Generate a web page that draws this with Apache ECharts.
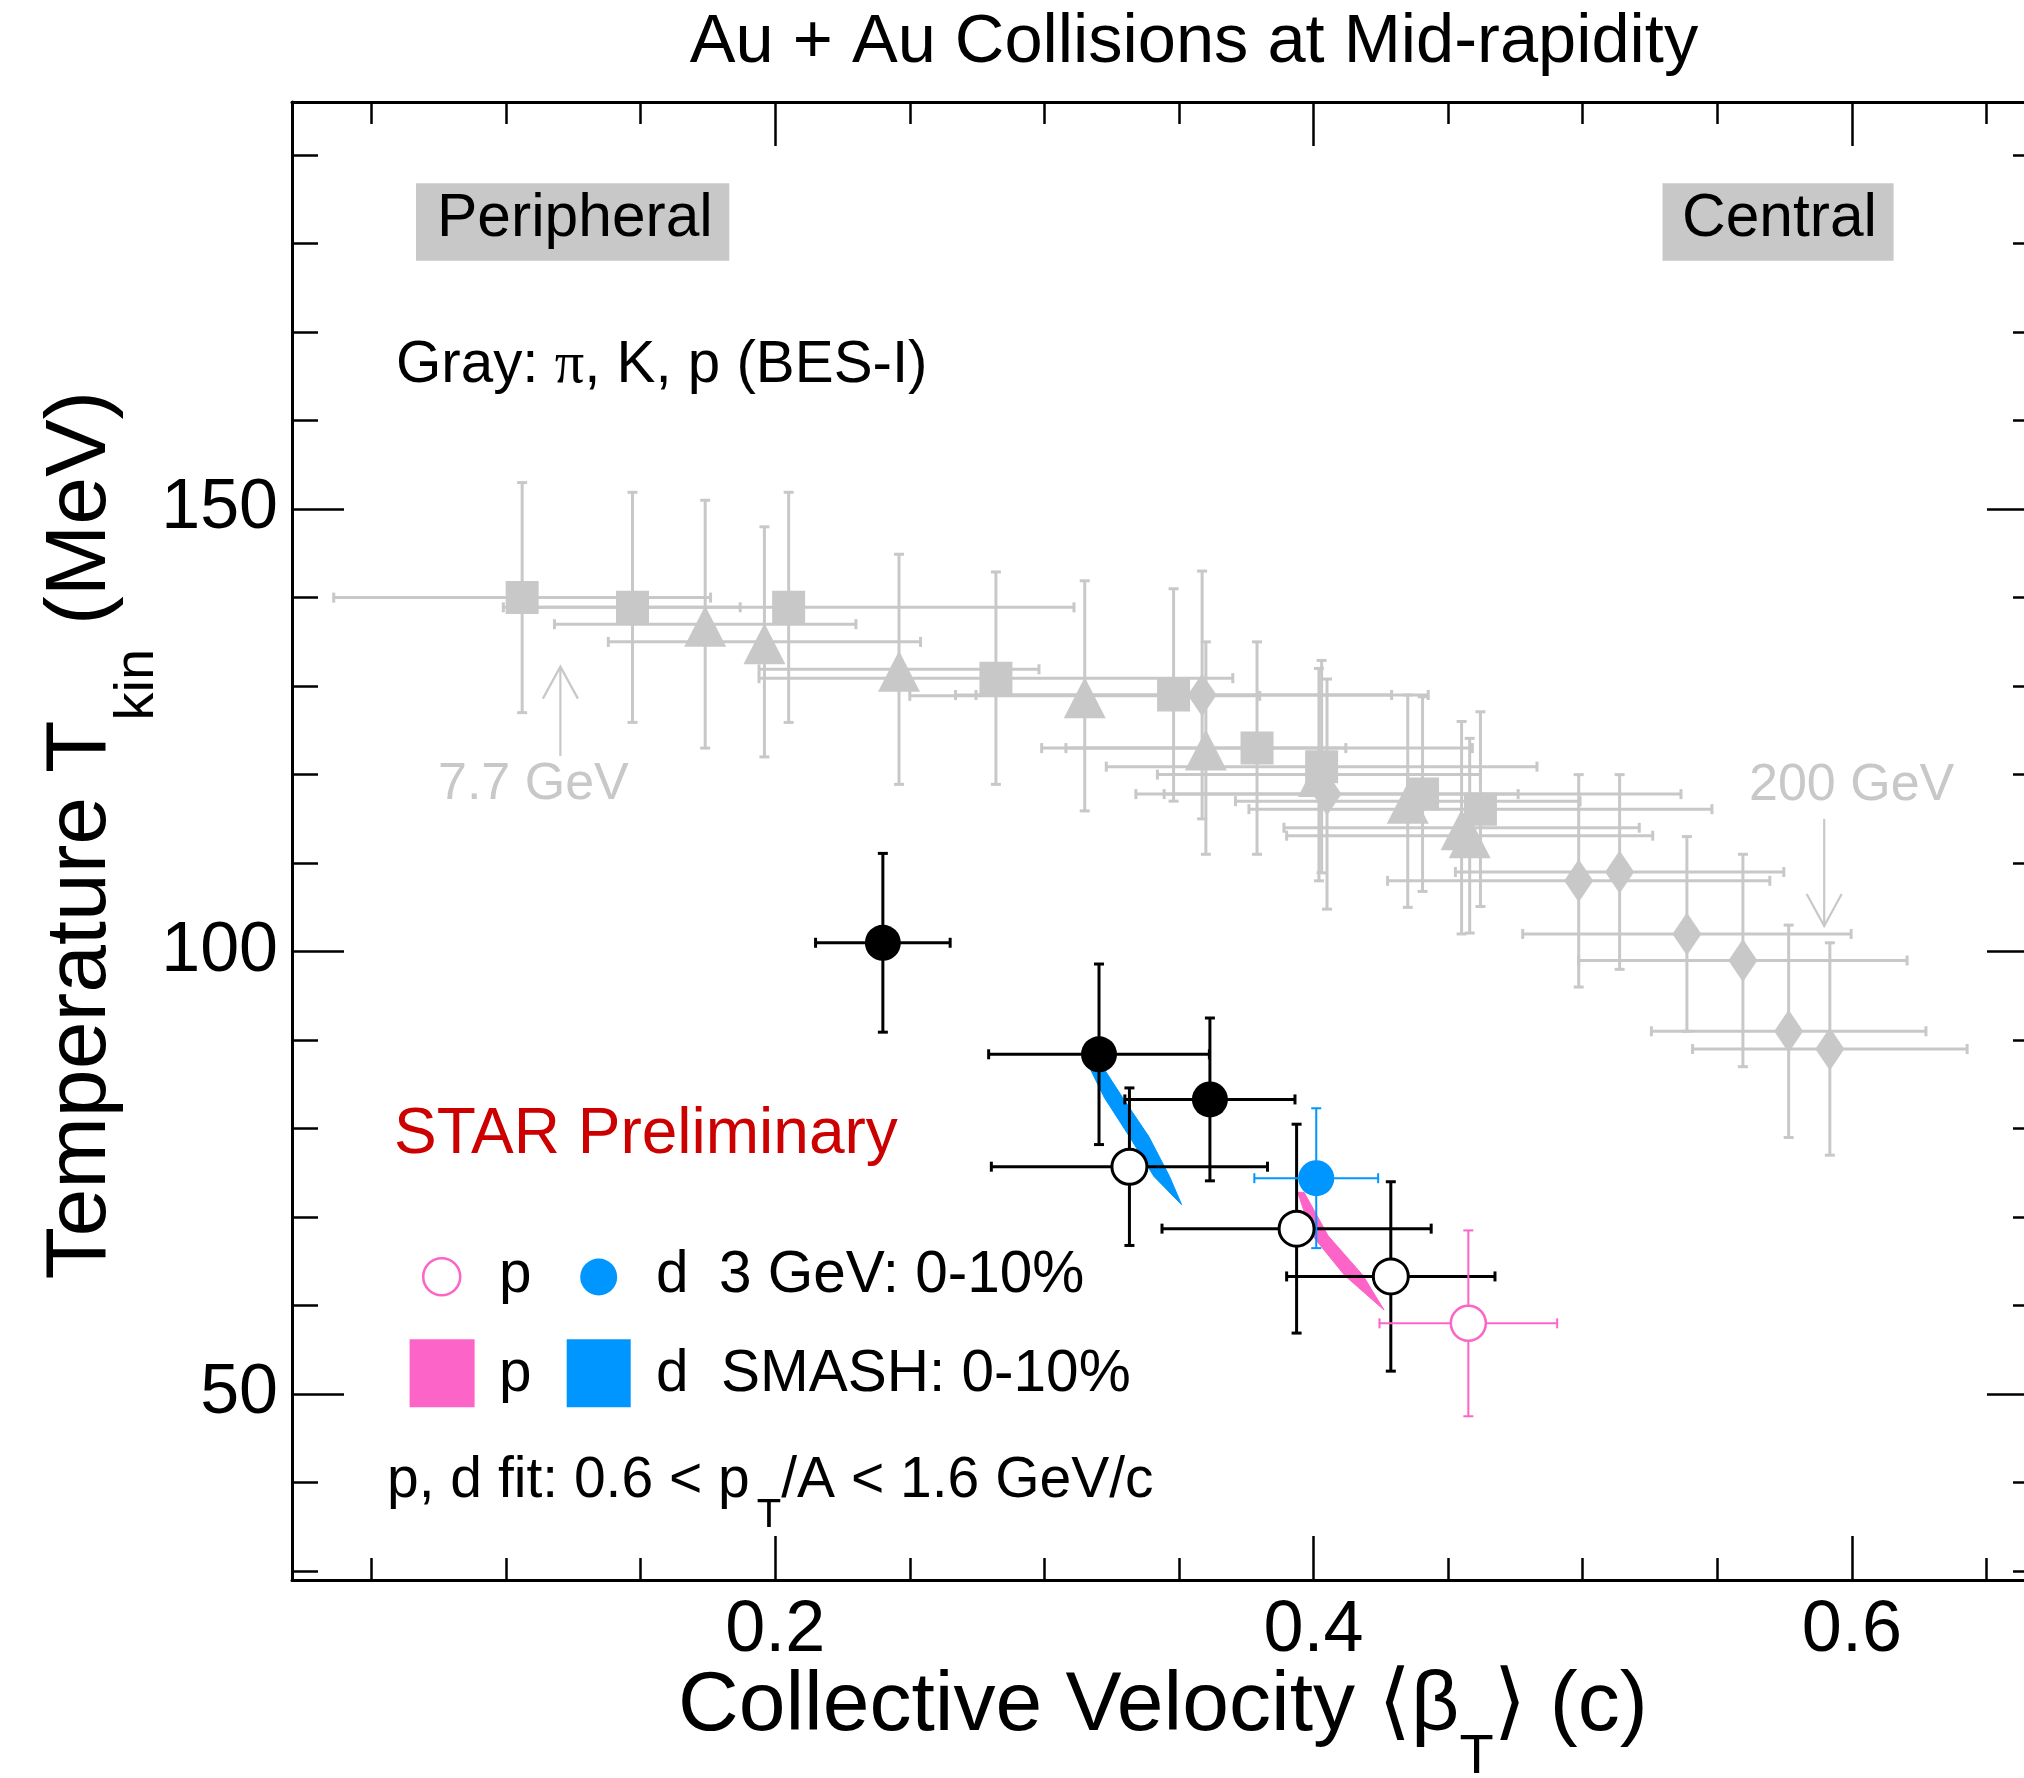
<!DOCTYPE html>
<html>
<head>
<meta charset="utf-8">
<script src="https://cdn.jsdelivr.net/npm/echarts@6/dist/echarts.min.js"></script>
<style>
html,body{margin:0;padding:0;background:#ffffff;}
#chart{width:2024px;height:1778px;}
</style>
</head>
<body>
<div id="chart"></div>
<script>
// ---------------- data ----------------
const X_MIN = 0.0205, X_MAX = 0.6695;
const Y_MIN = 29, Y_MAX = 196;
const xMajorTicks = [0.2, 0.4, 0.6];
const xMinorTicks = [0.05, 0.1, 0.15, 0.25, 0.3, 0.35, 0.45, 0.5, 0.55, 0.65];
const yMajorTicks = [50, 100, 150];
const yMinorTicks = [30, 40, 60, 70, 80, 90, 110, 120, 130, 140, 160, 170, 180, 190];

// Gray: pi, K, p (BES-I)
const graySquareX    = [0.106, 0.147, 0.205, 0.282, 0.348, 0.379, 0.403, 0.4405, 0.462];
const graySquareY    = [140.0, 138.9, 138.9, 130.9, 129.0, 123.0, 120.9, 117.8, 116.1];
const graySquareXErr = [0.070, 0.040, 0.106, 0.088, 0.081, 0.080, 0.080, 0.096, 0.086];
const graySquareYErr = [13, 13, 13, 12, 12, 12, 12, 11, 11];

const grayTriangleX    = [0.174, 0.196, 0.246, 0.315, 0.360, 0.402, 0.435, 0.455, 0.458];
const grayTriangleY    = [137.0, 135.0, 131.9, 128.9, 123.0, 120.0, 117.0, 114.0, 113.1];
const grayTriangleXErr = [0.056, 0.058, 0.052, 0.065, 0.052, 0.060, 0.064, 0.066, 0.068];
const grayTriangleYErr = [14, 13, 13, 13, 12, 12, 12, 12, 11];

const grayDiamondX    = [0.3586, 0.405, 0.4985, 0.5137, 0.5387, 0.5595, 0.5765, 0.5918];
const grayDiamondY    = [129.0, 117.8, 108.0, 109.0, 102.0, 99.0, 91.0, 89.0];
const grayDiamondXErr = [0.084, 0.071, 0.071, 0.061, 0.061, 0.061, 0.051, 0.051];
const grayDiamondYErr = [14, 13, 12, 11, 11, 12, 12, 12];

// 3 GeV, other centralities (black)
const blackDeuteronX    = [0.240, 0.3203, 0.3615];
const blackDeuteronY    = [101.0, 88.4, 83.3];
const blackDeuteronXErr = [0.025, 0.041, 0.0316];
const blackDeuteronYErr = [10.1, 10.2, 9.2];

const blackProtonX    = [0.3316, 0.3937, 0.4287];
const blackProtonY    = [75.7, 68.7, 63.3];
const blackProtonXErr = [0.0513, 0.050, 0.0387];
const blackProtonYErr = [8.9, 11.8, 10.7];

// 3 GeV 0-10%
const protonCentralX = [0.4575], protonCentralY = [58.0], protonCentralXErr = [0.033], protonCentralYErr = [10.5];
const deuteronCentralX = [0.401], deuteronCentralY = [74.4], deuteronCentralXErr = [0.023], deuteronCentralYErr = [7.9];

// SMASH 0-10% bands (outline vertices)
const smashDeuteronBandX = [0.3150, 0.3223, 0.3316, 0.3407, 0.3510, 0.3465, 0.3388, 0.3291, 0.3195];
const smashDeuteronBandY = [88.0, 83.5, 79.1, 74.6, 71.4, 74.6, 79.1, 83.5, 88.0];
const smashProtonBandX = [0.3941, 0.3996, 0.4116, 0.4262, 0.4184, 0.4054, 0.3965];
const smashProtonBandY = [72.8, 67.9, 63.4, 59.5, 63.4, 67.9, 72.8];

// energy arrows (7.7 GeV, 200 GeV)
const arrowX     = [0.1202, 0.5897];
const arrowTailY = [122.1, 115.0];
const arrowTipY  = [132.2, 102.9];

// ---------------- styles ----------------
const GRAY = '#c8c8c8', PINK = '#fc64c8', BLUE = '#0096ff', RED = '#cc0000';
const SANS = "'Liberation Sans', Arial, Helvetica, sans-serif";
const SERIF = "'Liberation Serif', 'Times New Roman', serif";
const DEJAVU = "'DejaVu Sans', sans-serif";

const zip2 = (xs, ys) => xs.map((x, i) => [x, ys[i]]);
const zip4 = (xs, ys, a, b) => xs.map((x, i) => [x, ys[i], a[i], b[i]]);

function errorBars(xs, ys, exs, eys, color, width, cap) {
  return {
    type: 'custom', silent: true, animation: false,
    data: zip4(xs, ys, exs, eys),
    encode: { x: 0, y: 1 },
    renderItem: function (params, api) {
      const x = api.value(0), y = api.value(1), ex = api.value(2), ey = api.value(3);
      const c = api.coord([x, y]);
      const l = api.coord([x - ex, y]), r = api.coord([x + ex, y]);
      const t = api.coord([x, y + ey]), b = api.coord([x, y - ey]);
      const st = { stroke: color, lineWidth: width, fill: null };
      const h = cap / 2;
      return { type: 'group', children: [
        { type: 'line', shape: { x1: l[0], y1: c[1], x2: r[0], y2: c[1] }, style: st },
        { type: 'line', shape: { x1: c[0], y1: t[1], x2: c[0], y2: b[1] }, style: st },
        { type: 'line', shape: { x1: l[0], y1: c[1] - h, x2: l[0], y2: c[1] + h }, style: st },
        { type: 'line', shape: { x1: r[0], y1: c[1] - h, x2: r[0], y2: c[1] + h }, style: st },
        { type: 'line', shape: { x1: c[0] - h, y1: t[1], x2: c[0] + h, y2: t[1] }, style: st },
        { type: 'line', shape: { x1: c[0] - h, y1: b[1], x2: c[0] + h, y2: b[1] }, style: st }
      ]};
    }
  };
}

function markers(xs, ys, symbol, size, itemStyle, offset) {
  return {
    type: 'scatter', silent: true, animation: false,
    symbol: symbol, symbolSize: size, symbolOffset: offset || [0, 0],
    itemStyle: Object.assign({ opacity: 1 }, itemStyle), data: zip2(xs, ys)
  };
}

function band(xs, ys, color) {
  return {
    type: 'custom', silent: true, animation: false,
    data: [[xs[0], ys[0]]],
    encode: { x: 0, y: 1 },
    renderItem: function (params, api) {
      const pts = xs.map((x, i) => api.coord([x, ys[i]]));
      return { type: 'polygon', shape: { points: pts }, style: { fill: color, stroke: color, lineWidth: 1 } };
    }
  };
}

function arrows() {
  return {
    type: 'custom', silent: true, animation: false,
    data: arrowX.map((x, i) => [x, arrowTailY[i], arrowTipY[i]]),
    encode: { x: 0, y: 1 },
    renderItem: function (params, api) {
      const x = api.value(0);
      const tail = api.coord([x, api.value(1)]);
      const tip = api.coord([x, api.value(2)]);
      const dir = tip[1] < tail[1] ? 1 : -1; // head opens back toward tail
      const st = { stroke: GRAY, lineWidth: 2.2, fill: null };
      return { type: 'group', children: [
        { type: 'line', shape: { x1: tail[0], y1: tail[1], x2: tip[0], y2: tip[1] }, style: st },
        { type: 'polyline', shape: { points: [[tip[0] - 17.5, tip[1] + dir * 32], [tip[0], tip[1]], [tip[0] + 17.5, tip[1] + dir * 32]] }, style: st }
      ]};
    }
  };
}

// ---------------- text helpers ----------------
const mctx = document.createElement('canvas').getContext('2d');
function tw(t, size, fam) { mctx.font = size + 'px ' + fam; return mctx.measureText(t).width; }
function textRun(pieces, x0, base, color) {
  let x = x0; const out = [];
  pieces.forEach(function (p) {
    const fam = p.family || SANS;
    if (p.gap) x += p.gap;
    out.push({
      type: 'text', silent: true, x: x, y: base + (p.dy || 0) - 0.35 * p.size,
      style: { text: p.t, font: p.size + 'px ' + fam, fill: p.color || color || '#000',
               align: 'left', verticalAlign: 'middle', textAlign: 'left', textVerticalAlign: 'middle' }
    });
    x += tw(p.t, p.size, fam);
  });
  return out;
}
function runWidth(pieces) { return pieces.reduce((s, p) => s + (p.gap || 0) + tw(p.t, p.size, p.family || SANS), 0); }

const titlePieces = [{ t: 'Au + Au Collisions at Mid-rapidity', size: 68.6 }];
const xTitlePieces = [
  { t: 'Collective Velocity ', size: 84 },
  { t: '\u27E8', size: 84, family: DEJAVU },
  { t: '\u03B2', size: 84 },
  { t: 'T', size: 56, dy: 40 },
  { t: '\u27E9', size: 84, family: DEJAVU },
  { t: ' (c)', size: 84 }
];
const yTitlePieces = [
  { t: 'Temperature T', size: 86 },
  { t: 'kin', size: 56, dy: 45 },
  { t: ' (MeV)', size: 86 }
];

const graphics = [];
// title
graphics.push(...textRun(titlePieces, 1194 - runWidth(titlePieces) / 2, 66.7, '#000'));
// axis titles
graphics.push(...textRun(xTitlePieces, 678, 1736.7, '#000'));
graphics.push({ type: 'group', x: 111.7, y: 1279.6, rotation: Math.PI / 2, children: textRun(yTitlePieces, 0, 0, '#000') });
// Peripheral / Central boxes
graphics.push({ type: 'rect', silent: true, shape: { x: 416, y: 183.3, width: 313.3, height: 77.4 }, style: { fill: GRAY } });
graphics.push({ type: 'rect', silent: true, shape: { x: 1662.5, y: 183.3, width: 231.1, height: 77.4 }, style: { fill: GRAY } });
graphics.push(...textRun([{ t: 'Peripheral', size: 60.5 }], 437, 240, '#000'));
graphics.push(...textRun([{ t: 'Central', size: 60.5 }], 1682, 240, '#000'));
// Gray label
graphics.push(...textRun([
  { t: 'Gray: ', size: 58.3 }, { t: '\u03C0', size: 58.3, family: SERIF }, { t: ', K, p (BES-I)', size: 58.3 }
], 396, 386.7, '#000'));
// energy labels
graphics.push(...textRun([{ t: '7.7 GeV', size: 52 }], 438, 803.3, GRAY));
graphics.push(...textRun([{ t: '200 GeV', size: 52 }], 1749, 803.4, GRAY));
// STAR Preliminary
graphics.push(...textRun([{ t: 'STAR Preliminary', size: 64 }], 394, 1158, RED));
// legend row 1
graphics.push({ type: 'circle', silent: true, shape: { cx: 441.7, cy: 1276.7, r: 18.5 }, style: { fill: '#fff', stroke: PINK, lineWidth: 2.5 } });
graphics.push({ type: 'circle', silent: true, shape: { cx: 598.7, cy: 1277, r: 18.5 }, style: { fill: BLUE } });
graphics.push(...textRun([{ t: 'p', size: 58.5 }], 499, 1296.7, '#000'));
graphics.push(...textRun([{ t: 'd', size: 58.5 }], 656, 1296.7, '#000'));
graphics.push(...textRun([{ t: '3 GeV: 0-10%', size: 58.5 }], 719, 1296.7, '#000'));
// legend row 2
graphics.push({ type: 'rect', silent: true, shape: { x: 409.6, y: 1339.3, width: 65, height: 68 }, style: { fill: PINK } });
graphics.push({ type: 'rect', silent: true, shape: { x: 566.7, y: 1339.3, width: 64, height: 68 }, style: { fill: BLUE } });
graphics.push(...textRun([{ t: 'p', size: 58.5 }], 499, 1395, '#000'));
graphics.push(...textRun([{ t: 'd', size: 58.5 }], 656, 1395, '#000'));
graphics.push(...textRun([{ t: 'SMASH: 0-10%', size: 58.5 }], 721, 1395, '#000'));
// fit range
graphics.push(...textRun([
  { t: 'p, d fit: 0.6 < p', size: 57 }, { t: 'T', size: 40, dy: 28, gap: 7 }, { t: '/A < 1.6 GeV/c', size: 57 }
], 387, 1501.7, '#000'));

// ---------------- axes ----------------
function xAx(pos, ticks, len, showLine, labels) {
  return {
    type: 'value', min: X_MIN, max: X_MAX, position: pos, gridIndex: 0,
    axisLine: { show: showLine, onZero: false, lineStyle: { color: '#000', width: 3 } },
    axisTick: { show: true, inside: true, length: len, customValues: ticks, lineStyle: { color: '#000', width: 2.5 } },
    axisLabel: labels ? { show: true, customValues: ticks, fontSize: 72, fontFamily: SANS, color: '#000', margin: 15,
                          formatter: v => Number(v).toFixed(1) } : { show: false },
    splitLine: { show: false }, minorTick: { show: false }
  };
}
function yAx(pos, ticks, len, showLine, labels) {
  return {
    type: 'value', min: Y_MIN, max: Y_MAX, position: pos, gridIndex: 0,
    axisLine: { show: showLine, onZero: false, lineStyle: { color: '#000', width: 3 } },
    axisTick: { show: true, inside: true, length: len, customValues: ticks, lineStyle: { color: '#000', width: 2.5 } },
    axisLabel: labels ? { show: true, customValues: ticks, fontSize: 70, fontFamily: SANS, color: '#000', margin: 14,
                          formatter: v => String(Math.round(v)) } : { show: false },
    splitLine: { show: false }, minorTick: { show: false }
  };
}

const series = [
  errorBars(graySquareX, graySquareY, graySquareXErr, graySquareYErr, GRAY, 3, 10),
  errorBars(grayTriangleX, grayTriangleY, grayTriangleXErr, grayTriangleYErr, GRAY, 3, 10),
  errorBars(grayDiamondX, grayDiamondY, grayDiamondXErr, grayDiamondYErr, GRAY, 3, 10),
  markers(graySquareX, graySquareY, 'rect', 33, { color: GRAY }),
  markers(grayTriangleX, grayTriangleY, 'triangle', [42, 41], { color: GRAY }, [0, 2]),
  markers(grayDiamondX, grayDiamondY, 'diamond', [29, 43], { color: GRAY }),
  arrows(),
  band(smashDeuteronBandX, smashDeuteronBandY, BLUE),
  band(smashProtonBandX, smashProtonBandY, PINK),
  errorBars(blackDeuteronX, blackDeuteronY, blackDeuteronXErr, blackDeuteronYErr, '#000', 3, 10),
  errorBars(blackProtonX, blackProtonY, blackProtonXErr, blackProtonYErr, '#000', 3, 10),
  errorBars(protonCentralX, protonCentralY, protonCentralXErr, protonCentralYErr, PINK, 2, 10),
  errorBars(deuteronCentralX, deuteronCentralY, deuteronCentralXErr, deuteronCentralYErr, BLUE, 2, 10),
  markers(blackDeuteronX, blackDeuteronY, 'circle', 36, { color: '#000' }),
  markers(blackProtonX, blackProtonY, 'circle', 35, { color: '#fff', borderColor: '#000', borderWidth: 3 }),
  markers(protonCentralX, protonCentralY, 'circle', 35, { color: '#fff', borderColor: PINK, borderWidth: 2.5 }),
  markers(deuteronCentralX, deuteronCentralY, 'circle', 36, { color: BLUE })
];

const chart = echarts.init(document.getElementById('chart'), null, { renderer: 'canvas', width: 2024, height: 1778 });
chart.setOption({
  animation: false,
  backgroundColor: '#ffffff',
  grid: { left: 292, top: 102, right: -15, bottom: 198, containLabel: false, outerBoundsMode: 'none', show: false },
  xAxis: [
    xAx('bottom', xMajorTicks, 44, true, true),
    xAx('bottom', xMinorTicks, 22, false, false),
    xAx('top', xMajorTicks, 44, true, false),
    xAx('top', xMinorTicks, 22, false, false)
  ],
  yAxis: [
    yAx('left', yMajorTicks, 52, true, true),
    yAx('left', yMinorTicks, 26, false, false),
    yAx('right', yMajorTicks, 52, true, false),
    yAx('right', yMinorTicks, 26, false, false)
  ],
  series: series.map(s => Object.assign(s, { xAxisIndex: 0, yAxisIndex: 0 })),
  graphic: { elements: graphics }
});
</script>
</body>
</html>
